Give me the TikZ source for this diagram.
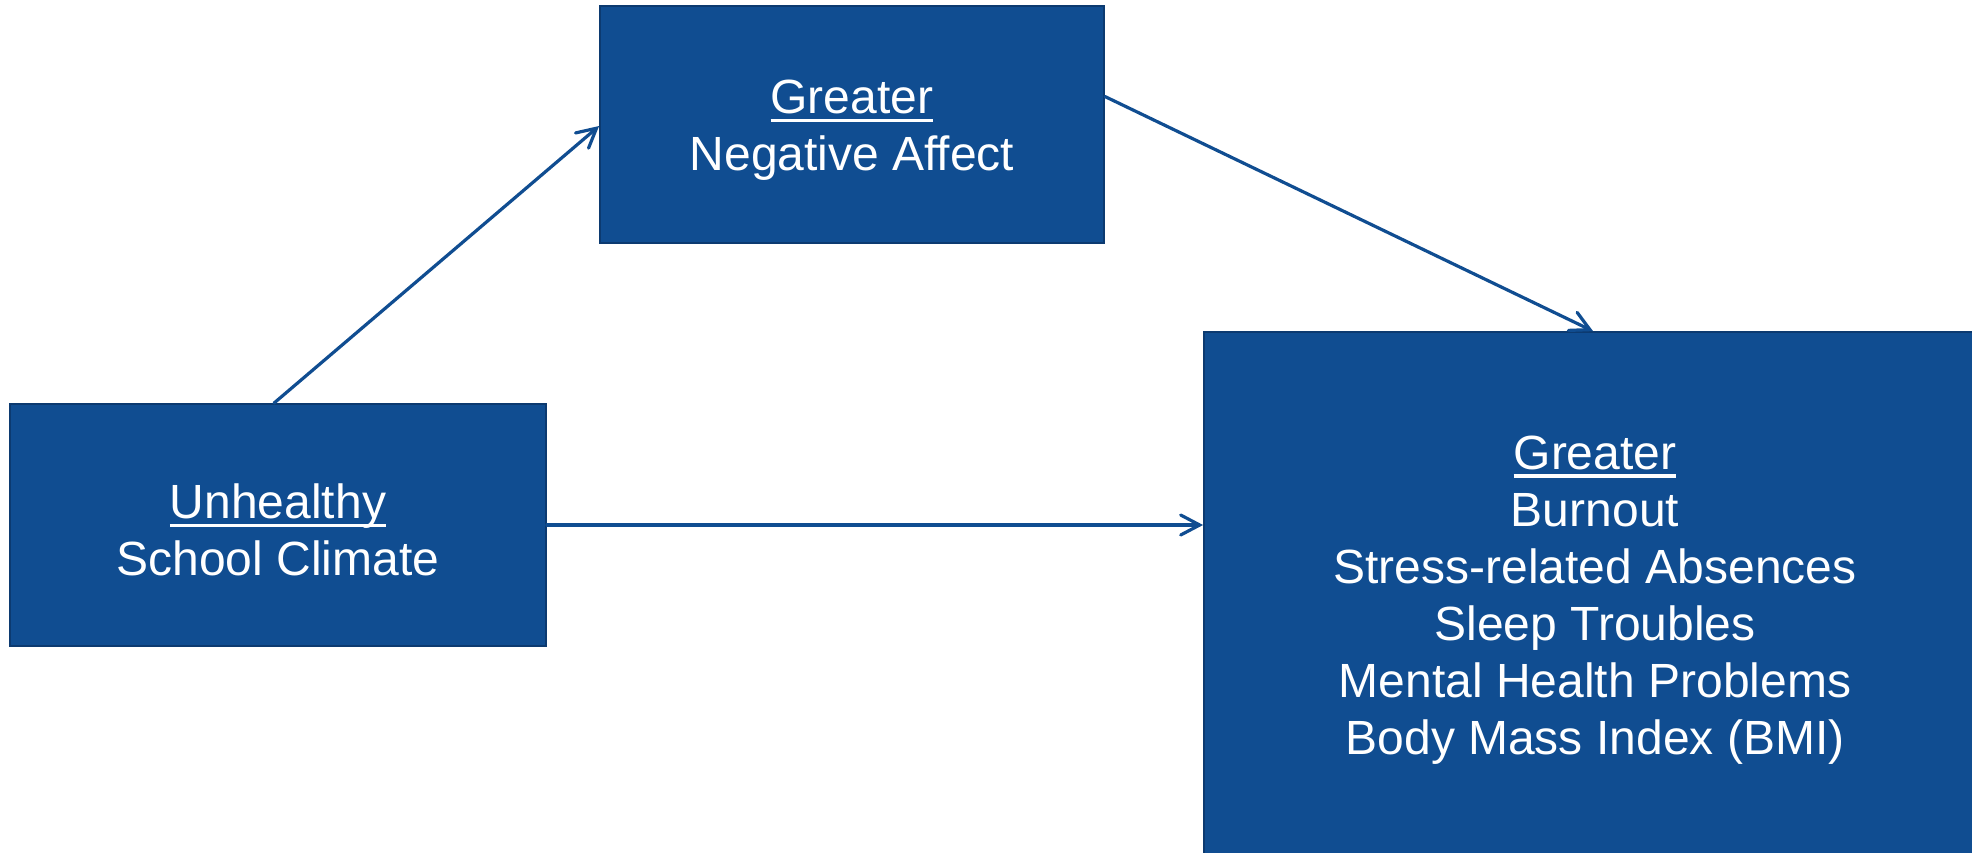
\documentclass[tikz,border=0pt]{standalone}
\usepackage{fontspec}
\setmainfont{Liberation Sans}
\usetikzlibrary{arrows.meta}
\definecolor{boxblue}{RGB}{16,77,145}
\definecolor{boxedge}{RGB}{12,58,112}
\newcommand{\ulword}[1]{{\rule{0pt}{45pt}\setbox0\hbox{#1}\rlap{\rule[-8.5pt]{\wd0}{3.5pt}}\box0}}
\begin{document}
\begin{tikzpicture}[x=1pt,y=-1pt,
  box/.style={draw=boxedge, line width=1.8pt, fill=boxblue, text=white, align=center,
    inner sep=0pt, font=\fontsize{48}{57}\selectfont},
  link/.style={draw=boxblue, line width=3.2pt, line cap=round,
    -{Straight Barb[length=19pt,width=20pt,line width=3.2pt,line cap=round]}}]
\useasboundingbox (0,0) rectangle (1972,852);
\clip (0,0) rectangle (1972,852);
\fill[white] (0,0) rectangle (1972,852);
\node[box, minimum width=504pt, minimum height=237pt] (tb) at (852,124.5)
  {\ulword{Greater}\\Negative Affect};
\node[box, minimum width=536pt, minimum height=242pt] (lb) at (278,525)
  {\ulword{Unhealthy}\\School Climate};
\node[box, minimum width=782pt, minimum height=524pt] (rb) at (1595,594)
  {\ulword{Greater}\\Burnout\\Stress-related Absences\\Sleep Troubles\\Mental Health Problems\\Body Mass Index (BMI)};
\draw[link] ([xshift=-4pt]lb.north) -- ([yshift=-1.5pt]tb.west);
\draw[link] ([yshift=28pt]tb.east) -- ([xshift=-2pt]rb.north);
\draw[link] (lb.east) -- (rb.west |- lb.east);
\end{tikzpicture}
\end{document}
